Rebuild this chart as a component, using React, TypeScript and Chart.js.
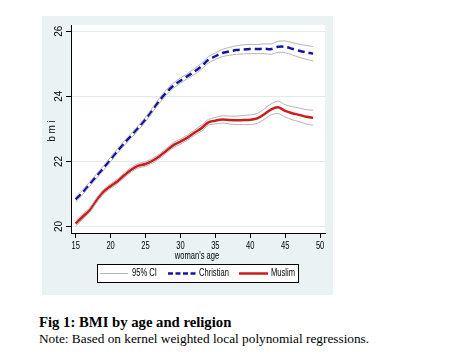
import React, { useEffect, useRef } from "react";
import { Chart, registerables } from "chart.js";

Chart.register(...registerables);

const ages = [15,16,17,18,19,20,21,22,23,24,25,26,27,28,29,30,31,32,33,34,35,36,37,38,39,40,41,42,43,44,45,46,47,48,49];

const christian = [20.83,21.05,21.3,21.55,21.8,22.06,22.32,22.57,22.8,23.04,23.29,23.58,23.87,24.12,24.33,24.48,24.62,24.76,24.92,25.12,25.23,25.33,25.38,25.42,25.44,25.45,25.45,25.46,25.45,25.52,25.52,25.46,25.4,25.35,25.31];
const christianCIHalf = [0.08,0.07,0.07,0.07,0.07,0.07,0.07,0.07,0.07,0.07,0.07,0.07,0.08,0.08,0.08,0.08,0.08,0.09,0.09,0.1,0.1,0.11,0.12,0.13,0.14,0.14,0.14,0.15,0.16,0.17,0.18,0.19,0.2,0.21,0.22];

const muslim = [20.09,20.3,20.5,20.81,21.07,21.24,21.39,21.58,21.75,21.87,21.92,22.02,22.16,22.33,22.5,22.61,22.73,22.88,23.02,23.2,23.25,23.29,23.27,23.26,23.27,23.28,23.32,23.45,23.6,23.66,23.55,23.48,23.43,23.37,23.34];
const muslimCIHalf = [0.09,0.08,0.07,0.07,0.07,0.07,0.07,0.07,0.07,0.07,0.07,0.07,0.07,0.07,0.08,0.08,0.08,0.08,0.09,0.09,0.1,0.11,0.12,0.13,0.14,0.15,0.15,0.16,0.17,0.19,0.19,0.2,0.21,0.22,0.23];

const xTicks = [15,20,25,30,35,40,45,50];
const yTicks = [20,22,24,26];

const seriesLabels = ["95% CI", "Christian", "Muslim"];
const xTitle = "woman's age";
const yTitle = "b m i";

const BLUE = "#1414a4";
const RED = "#cc1c1c";
const GRAY = "#b4b4b4";
const FONT = "'Liberation Sans', Arial, sans-serif";
const SQUEEZE = 0.72;

function pts(vals: number[], half?: number[], sign = 0) {
  return ages.map((a, i) => ({ x: a, y: vals[i] + (half ? sign * half[i] : 0) }));
}

function squeezedText(ctx: CanvasRenderingContext2D, text: string, x: number, y: number, align: "left" | "center") {
  ctx.save();
  ctx.translate(x, y);
  ctx.scale(SQUEEZE, 1);
  ctx.textAlign = align;
  ctx.fillText(text, 0, 0);
  ctx.restore();
}

export default function App() {
  const ref = useRef<HTMLCanvasElement | null>(null);

  useEffect(() => {
    if (!ref.current) return;
    const ciStyle = { borderColor: GRAY, borderWidth: 1, pointRadius: 0, fill: false, tension: 0.3, label: seriesLabels[0] };
    const decor = {
      id: "decor",
      beforeDraw(chart: any) {
        const { ctx, chartArea: a } = chart;
        ctx.save();
        ctx.fillStyle = "#eaf2f3";
        ctx.fillRect(0, 0, chart.width, chart.height);
        ctx.fillStyle = "#ffffff";
        ctx.fillRect(a.left, a.top, a.right - a.left, a.bottom - a.top);
        ctx.restore();
      },
      afterDraw(chart: any) {
        const { ctx, chartArea: a, scales } = chart;
        const ys = scales.y;
        const xs = scales.x;
        ctx.save();
        ctx.fillStyle = "#000";
        ctx.font = `10px ${FONT}`;
        ctx.textAlign = "center";
        ctx.textBaseline = "middle";
        // y tick labels, rotated
        yTicks.forEach((t) => {
          const py = ys.getPixelForValue(t);
          ctx.save();
          ctx.translate(a.left - 12, py);
          ctx.rotate(-Math.PI / 2);
          ctx.fillText(String(t), 0, 0);
          ctx.restore();
        });
        // y title
        ctx.save();
        ctx.translate(10, (a.top + a.bottom) / 2 + 2);
        ctx.rotate(-Math.PI / 2);
        ctx.fillText(yTitle, 0, 0);
        ctx.restore();
        ctx.font = `10.5px ${FONT}`;
        // x tick labels
        xTicks.forEach((t) => {
          squeezedText(ctx, String(t), xs.getPixelForValue(t), a.bottom + 13.5, "center");
        });
        // x title
        squeezedText(ctx, xTitle, (a.left + a.right) / 2 - 1, a.bottom + 23, "center");
        // legend
        const lx = 55, ly = 248, lw = 201, lh = 18;
        ctx.fillStyle = "#ffffff";
        ctx.fillRect(lx, ly, lw, lh);
        ctx.strokeStyle = "#000";
        ctx.lineWidth = 1;
        ctx.strokeRect(lx + 0.5, ly + 0.5, lw, lh);
        const cy = ly + lh / 2 + 0.5;
        const items = [
          { x0: 58, x1: 86, tx: 90, color: GRAY, w: 1, dash: [] as number[], label: seriesLabels[0] },
          { x0: 126, x1: 154, tx: 157, color: BLUE, w: 2.5, dash: [5, 2.5], label: seriesLabels[1] },
          { x0: 197, x1: 226, tx: 229, color: RED, w: 2.5, dash: [] as number[], label: seriesLabels[2] },
        ];
        items.forEach((it) => {
          ctx.beginPath();
          ctx.strokeStyle = it.color;
          ctx.lineWidth = it.w;
          ctx.setLineDash(it.dash);
          ctx.moveTo(it.x0, cy);
          ctx.lineTo(it.x1, cy);
          ctx.stroke();
          ctx.setLineDash([]);
          ctx.fillStyle = "#000";
          squeezedText(ctx, it.label, it.tx, cy, "left");
        });
        ctx.restore();
      },
    };

    const chart = new Chart(ref.current, {
      type: "line",
      data: {
        datasets: [
          { ...ciStyle, data: pts(christian, christianCIHalf, 1) },
          { ...ciStyle, data: pts(christian, christianCIHalf, -1) },
          { ...ciStyle, data: pts(muslim, muslimCIHalf, 1) },
          { ...ciStyle, data: pts(muslim, muslimCIHalf, -1) },
          { label: seriesLabels[1], data: pts(christian), borderColor: BLUE, borderWidth: 2.5, borderDash: [7, 4], pointRadius: 0, fill: false, tension: 0.3 },
          { label: seriesLabels[2], data: pts(muslim), borderColor: RED, borderWidth: 2.5, pointRadius: 0, fill: false, tension: 0.3 },
        ],
      },
      options: {
        animation: false,
        responsive: false,
        maintainAspectRatio: false,
        layout: { padding: { left: 0, right: 8, top: 9, bottom: 0 } },
        plugins: { legend: { display: false }, tooltip: { enabled: false } },
        scales: {
          x: {
            type: "linear",
            min: 14.33,
            max: 50.7,
            afterBuildTicks: (s: any) => { s.ticks = xTicks.map((v) => ({ value: v })); },
            afterFit: (s: any) => { s.height = 62; },
            grid: { drawOnChartArea: false, drawTicks: true, tickLength: 5, color: "#000", tickColor: "#000" },
            border: { display: true, color: "#000", width: 1 },
            ticks: { display: false },
          },
          y: {
            type: "linear",
            min: 19.8,
            max: 26.19,
            afterBuildTicks: (s: any) => { s.ticks = yTicks.map((v) => ({ value: v })); },
            afterFit: (s: any) => { s.width = 29; },
            grid: { drawOnChartArea: true, drawTicks: true, tickLength: 5, color: "#e3eaec", tickColor: "#000" },
            border: { display: true, color: "#000", width: 1 },
            ticks: { display: false },
          },
        },
      },
      plugins: [decor],
    } as any);
    return () => chart.destroy();
  }, []);

  return (
    <div style={{ position: "absolute", left: 0, top: 0, width: 454, height: 357, background: "#fff", overflow: "hidden" }}>
      <canvas ref={ref} width={291} height={279} style={{ position: "absolute", left: 42, top: 16, width: 291, height: 279 }} />
      <div style={{ position: "absolute", left: 39, top: 314, fontFamily: "'Liberation Serif', 'Times New Roman', serif", fontWeight: "bold", fontSize: 14.7, lineHeight: "16px", color: "#000", whiteSpace: "nowrap" }}>
        Fig 1: BMI by age and religion
      </div>
      <div style={{ position: "absolute", left: 39, top: 331, fontFamily: "'Liberation Serif', 'Times New Roman', serif", fontSize: 13.3, lineHeight: "15px", color: "#000", whiteSpace: "nowrap" }}>
        Note: Based on kernel weighted local polynomial regressions.
      </div>
    </div>
  );
}
